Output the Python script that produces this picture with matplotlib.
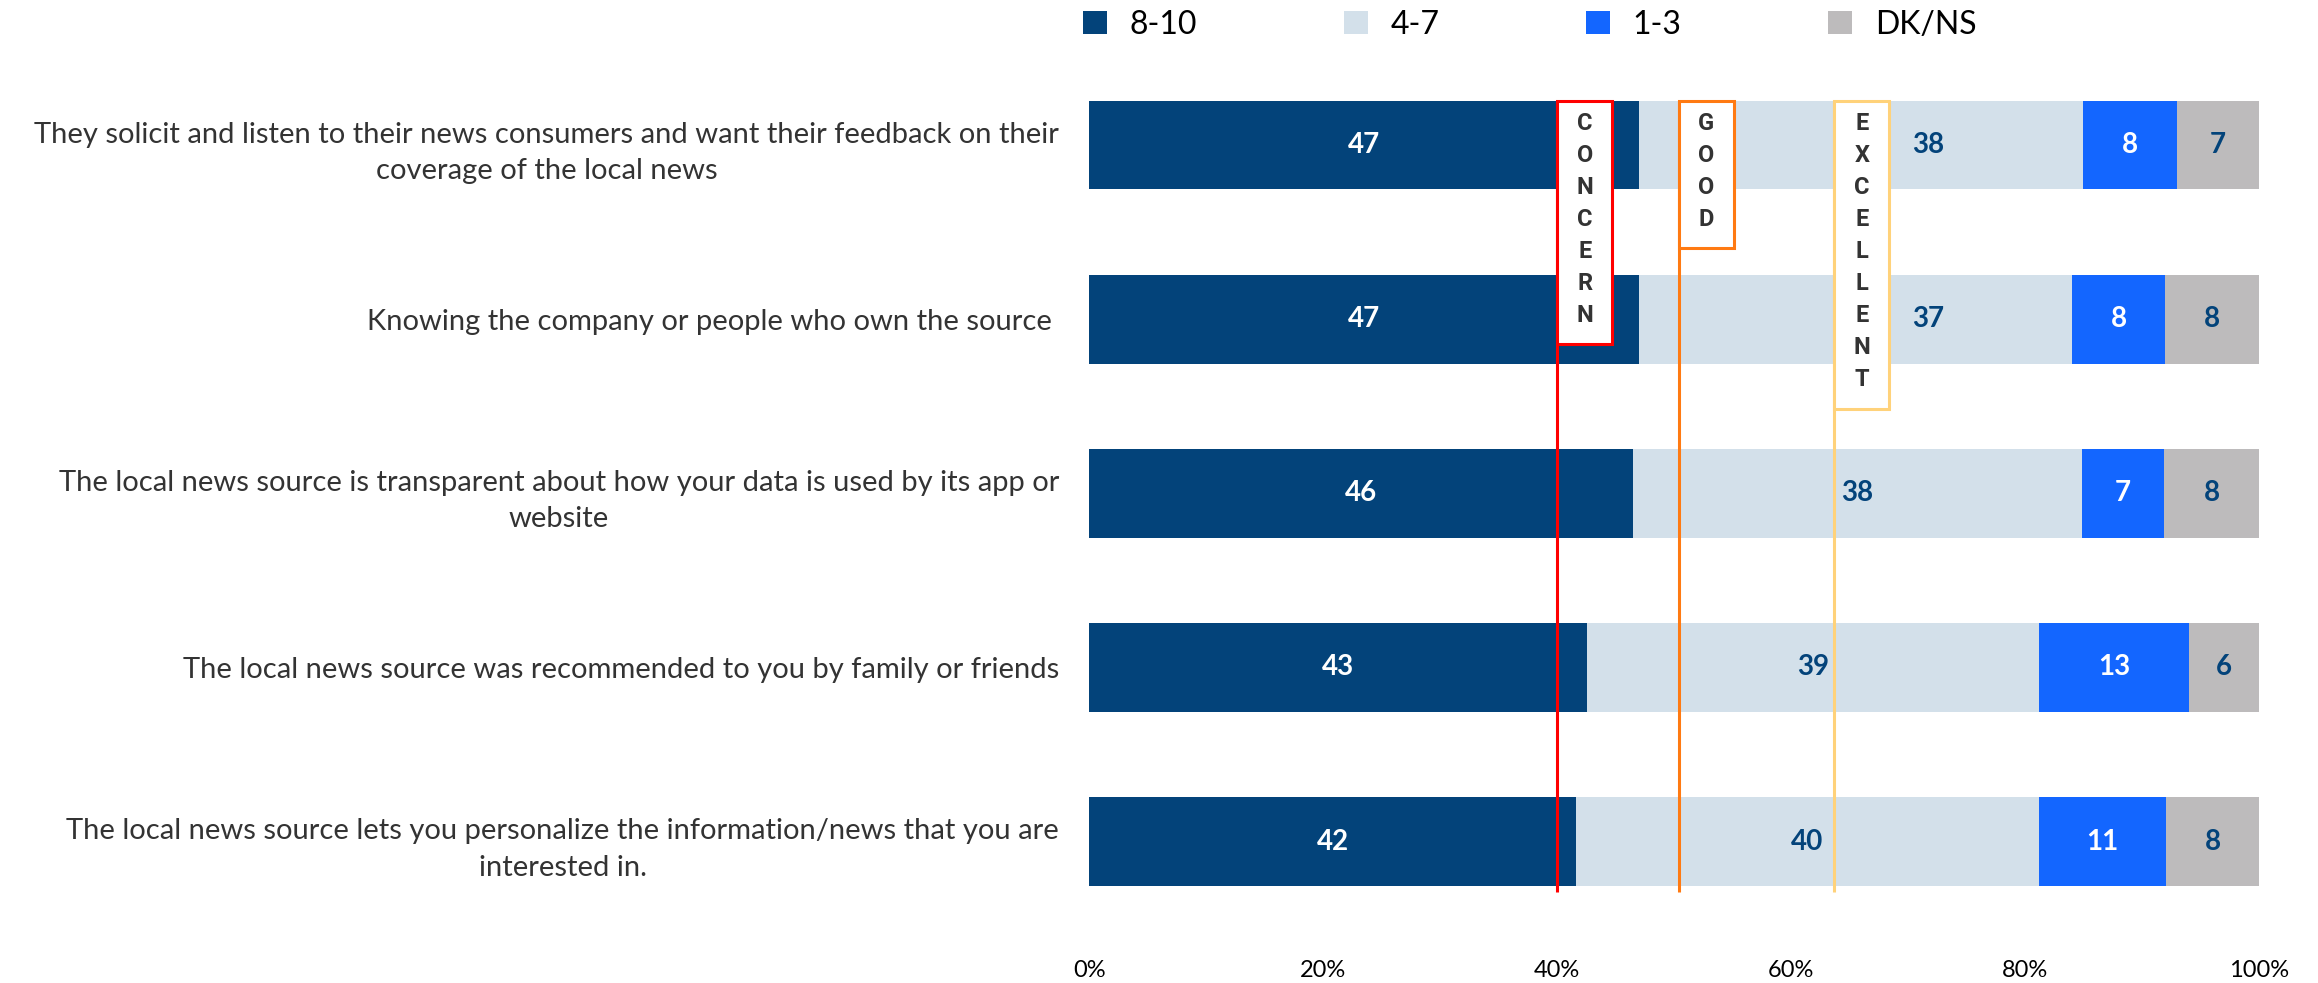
import numpy as np
import matplotlib.pyplot as plt
from matplotlib.patches import Rectangle, Patch

plt.rcParams['font.family'] = ['Lato', 'DejaVu Sans']

statements = [
    "They solicit and listen to their news consumers and want their feedback on their\ncoverage of the local news",
    "Knowing the company or people who own the source ",
    "The local news source is transparent about how your data is used by its app or\nwebsite",
    "The local news source was recommended to you by family or friends",
    "The local news source lets you personalize the information/news that you are\ninterested in.",
]
series = ["8-10", "4-7", "1-3", "DK/NS"]
high = [47, 47, 46, 43, 42]
mid = [38, 37, 38, 39, 40]
low = [8, 8, 7, 13, 11]
dkns = [7, 8, 8, 6, 8]

colors = ["#03437A", "#D3E0EA", "#1366FF", "#BDBBBC"]
label_colors = ["white", "#03437A", "white", "#03437A"]
# nudge the 4-7 labels of the top two rows clear of the markers
mid_label_shift = [5.7, 6.2, 0, 0, 0]

thresholds = ["CONCERN", "GOOD", "EXCELLENT"]
threshold_x = [40, 50.4, 63.7]
threshold_colors = ["#FF0000", "#FF7A12", "#FFD27A"]
box_bottom = [1.144, 0.59, 1.517]

fig = plt.figure(figsize=(23.18, 9.83), dpi=100)
ax = fig.add_axes([0.47, 0.0376, 0.5045, 0.9211])

data = np.array([high, mid, low, dkns], dtype=float)
pct = data / data.sum(axis=0) * 100
y = np.arange(len(statements))
left = np.zeros(len(statements))
bar_h = 0.51
for k in range(len(series)):
    ax.barh(y, pct[k], left=left, height=bar_h, color=colors[k], edgecolor='none', zorder=2)
    for i in range(len(statements)):
        cx = left[i] + pct[k][i] / 2
        if k == 1:
            cx += mid_label_shift[i]
        ax.text(cx, y[i], f"{int(data[k][i])}", ha='center', va='center',
                color=label_colors[k], fontsize=20, fontweight='bold', zorder=5)
    left += pct[k]

# threshold markers with vertical letter boxes
top = -bar_h / 2
line_bottom = 4.29
box_w = 4.7
letter_step = 0.184
for name, xv, c, bb in zip(thresholds, threshold_x, threshold_colors, box_bottom):
    ax.plot([xv, xv], [top, line_bottom], color=c, lw=2.2, zorder=3, solid_capstyle='butt')
    ax.add_patch(Rectangle((xv, top), box_w, bb - top, facecolor='white', edgecolor=c,
                           lw=2.2, zorder=4))
    for j, ch in enumerate(name):
        ax.text(xv + box_w / 2, -0.126 + j * letter_step, ch, ha='center', va='center',
                fontsize=17, fontweight='bold', color='#333333', family='Roboto', zorder=6)

ax.set_xlim(0, 100)
ax.set_ylim(4.6, -0.6)
ax.set_xticks(np.arange(0, 101, 20))
ax.set_xticklabels([f"{v}%" for v in range(0, 101, 20)], fontsize=17)
ax.set_yticks(y)
ax.set_yticklabels(statements, fontsize=21, color='#333333', multialignment='center',
                   linespacing=1.5)
ax.tick_params(axis='both', length=0)
ax.tick_params(axis='x', pad=10)
ax.tick_params(axis='y', pad=22)
for s in ax.spines.values():
    s.set_visible(False)

handles = [Patch(facecolor=c, edgecolor='none') for c in colors]
fig.legend(handles, series, loc='center', bbox_to_anchor=(0.66, 0.975), ncol=4,
           frameon=False, fontsize=23, handlelength=0.75, handleheight=0.75,
           handletextpad=0.7, columnspacing=4.6)

fig.savefig("out.png", dpi=100)
